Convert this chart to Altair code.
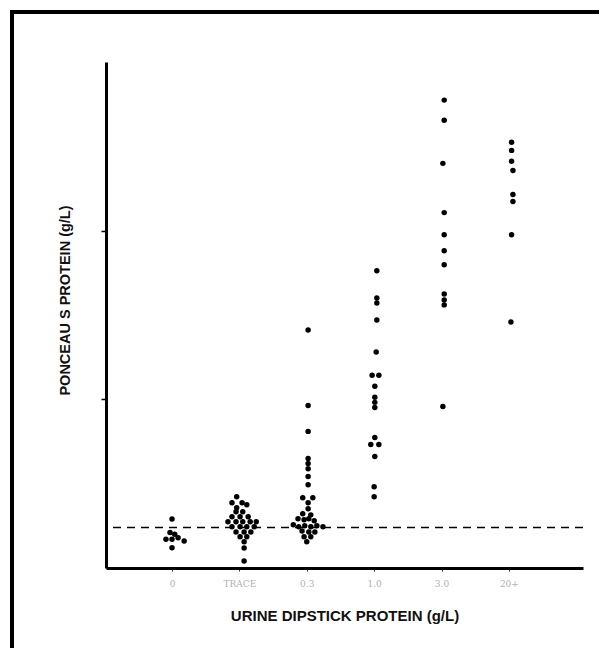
import altair as alt
import pandas as pd

categories = ["0", "TRACE", "0.3", "1.0", "3.0", "20+"]

# Ponceau S protein (g/L), per dipstick category
vals_0 = [0.29, 0.21, 0.20, 0.17, 0.17, 0.18, 0.16, 0.12]
offs_0 = [0.00, -0.03, 0.04, -0.09, 0.00, 0.09, 0.18, 0.00]

vals_trace = [0.423, 0.387, 0.387, 0.357, 0.375, 0.333, 0.333, 0.304, 0.304, 0.304,
              0.274, 0.274, 0.274, 0.274, 0.274, 0.244, 0.244, 0.244, 0.244,
              0.214, 0.214, 0.214, 0.185, 0.185, 0.155, 0.119, 0.042]
offs_trace = [-0.04, -0.11, 0.04, -0.04, 0.11, -0.05, 0.05, -0.11, 0.01, 0.13,
              -0.17, -0.05, 0.05, 0.16, 0.25, -0.11, 0.01, 0.11, 0.22,
              -0.05, 0.07, 0.17, 0.01, 0.11, 0.07, 0.07, 0.07]

vals_03 = [1.411, 0.964, 0.810, 0.649, 0.619, 0.589, 0.542, 0.494, 0.417, 0.417,
           0.387, 0.351, 0.321, 0.315, 0.292, 0.286, 0.292, 0.280, 0.256, 0.244,
           0.250, 0.244, 0.250, 0.244, 0.220, 0.214, 0.214, 0.185, 0.185, 0.155]
offs_03 = [0.02, 0.02, 0.02, 0.02, 0.02, 0.02, 0.02, 0.02, -0.06, 0.09,
           0.02, 0.02, -0.06, 0.06, -0.13, -0.04, 0.03, 0.11, -0.20, -0.12,
           -0.03, 0.06, 0.15, 0.24, -0.07, 0.03, 0.12, -0.04, 0.06, 0.00]

vals_10 = [1.762, 1.601, 1.571, 1.470, 1.280, 1.143, 1.143, 1.077, 1.012, 0.982,
           0.952, 0.774, 0.732, 0.732, 0.661, 0.482, 0.423]
offs_10 = [0.04, 0.04, 0.04, 0.04, 0.03, -0.03, 0.07, 0.01, 0.01, 0.01,
           0.01, 0.01, -0.05, 0.07, 0.01, 0.00, 0.00]

vals_30 = [2.774, 2.655, 2.399, 2.107, 1.976, 1.881, 1.798, 1.625, 1.589, 1.560, 0.958]
offs_30 = [0.04, 0.04, 0.02, 0.04, 0.04, 0.04, 0.04, 0.04, 0.04, 0.04, 0.02]

vals_20 = [2.524, 2.476, 2.411, 2.357, 2.214, 2.173, 1.976, 1.458]
offs_20 = [0.04, 0.04, 0.04, 0.06, 0.06, 0.06, 0.04, 0.03]

reference_level = 0.24

groups = [(vals_0, offs_0), (vals_trace, offs_trace), (vals_03, offs_03),
          (vals_10, offs_10), (vals_30, offs_30), (vals_20, offs_20)]
rows = []
for i, (vs, os_) in enumerate(groups):
    for v, o in zip(vs, os_):
        rows.append({"pos": i + o, "protein": v, "cat": categories[i]})
df = pd.DataFrame(rows)

label_expr = "[" + ",".join("'%s'" % c for c in categories) + "][datum.value]"

x = alt.X("pos:Q",
          scale=alt.Scale(domain=[-0.98, 6.1], nice=False, zero=False),
          axis=alt.Axis(values=list(range(len(categories))), labelExpr=label_expr,
                        title="URINE DIPSTICK PROTEIN (g/L)", grid=False,
                        domainColor="black", domainWidth=3, tickColor="#333",
                        tickSize=3, tickWidth=1, labelColor="#b0b0b0",
                        labelFontSize=9, labelFont="DejaVu Serif", labelPadding=8,
                        titleFont="Liberation Sans", titleFontSize=15,
                        titleFontWeight="bold", titleColor="#111",
                        titlePadding=20))
y = alt.Y("protein:Q",
          scale=alt.Scale(domain=[0, 3], nice=False),
          axis=alt.Axis(values=[1, 2], labels=False, grid=False,
                        domainColor="black", domainWidth=3, tickColor="black",
                        tickSize=5, tickWidth=1.5,
                        title="PONCEAU S PROTEIN (g/L)",
                        titleFont="Liberation Sans", titleFontSize=14.5,
                        titleFontWeight="bold", titleColor="#111",
                        titlePadding=28, titleY=238))

points = alt.Chart(df).mark_point(filled=True, color="black", opacity=1,
                                  size=30, shape="circle").encode(x=x, y=y)

dashed = alt.Chart(pd.DataFrame({"ref": [reference_level]})).mark_rule(
    color="black", strokeWidth=1.6, strokeDash=[8, 6]
).encode(y="ref:Q")

frame_top = alt.Chart(pd.DataFrame({"a": [0]})).mark_rule(
    color="black", strokeWidth=4
).encode(x=alt.value(-96), x2=alt.value(493), y=alt.value(-50))

frame_left = alt.Chart(pd.DataFrame({"a": [0]})).mark_rule(
    color="black", strokeWidth=4
).encode(x=alt.value(-94), y=alt.value(-52), y2=alt.value(586))

chart = alt.layer(dashed, points, frame_top, frame_left).properties(
    width=477, height=506,
    autosize=alt.AutoSizeParams(type="none"),
    padding={"left": 98, "top": 54, "right": 16, "bottom": 80},
).configure(background="white").configure_view(stroke=None, strokeWidth=0)

chart.save("out.html", embed_options={"renderer": "svg", "actions": False})
